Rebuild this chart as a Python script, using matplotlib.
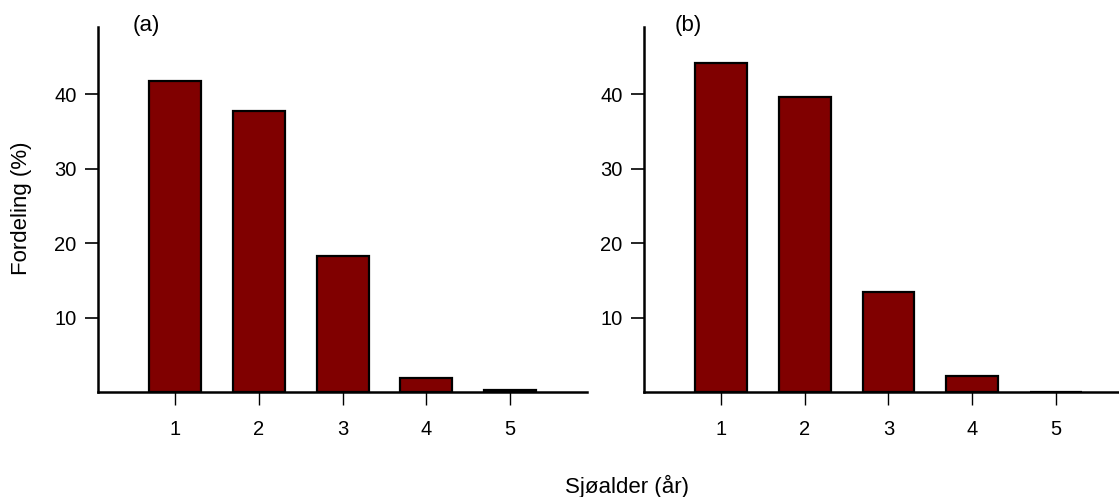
import matplotlib.pyplot as plt

plt.rcParams['font.family'] = ['Liberation Sans', 'DejaVu Sans']
plt.rcParams['font.size'] = 14.5

# Andel per sjøalder (%) for de to utvalgene
sjoalder = [1, 2, 3, 4, 5]
fordeling_a = [41.8, 37.7, 18.3, 2.0, 0.3]
fordeling_b = [44.2, 39.6, 13.5, 2.2, 0.0]
paneler = ['(a)', '(b)']
panel_x = [0.071, 0.063]

fig = plt.figure(figsize=(11.19, 4.97), dpi=100)
ax_a = fig.add_axes([0.0876, 0.2103, 0.437, 0.7354])
ax_b = fig.add_axes([0.5755, 0.2103, 0.437, 0.7354])

for ax, verdier, navn, px in zip([ax_a, ax_b], [fordeling_a, fordeling_b], paneler, panel_x):
    ax.bar(sjoalder, verdier, width=0.62, color='#800000', edgecolor='black', linewidth=1.6)
    ax.set_xlim(0.083, 5.917)
    ax.set_ylim(0, 49)
    ax.set_xticks(sjoalder)
    ax.set_yticks([10, 20, 30, 40])
    ax.spines['top'].set_visible(False)
    ax.spines['right'].set_visible(False)
    ax.spines['left'].set_linewidth(1.8)
    ax.spines['bottom'].set_linewidth(1.8)
    ax.tick_params(axis='y', direction='out', length=9.5, width=1.2, pad=6)
    ax.tick_params(axis='x', direction='out', length=9.5, width=1.0, pad=10)
    ax.text(px, 1.004, navn, transform=ax.transAxes, ha='left', va='center', fontsize=16)

fig.text(0.019, 0.580, 'Fordeling (%)', rotation=90, ha='center', va='center', fontsize=16)
fig.text(0.560, 0.022, 'Sjøalder (år)', ha='center', va='center', fontsize=16)

fig.savefig('out.png', dpi=100)
